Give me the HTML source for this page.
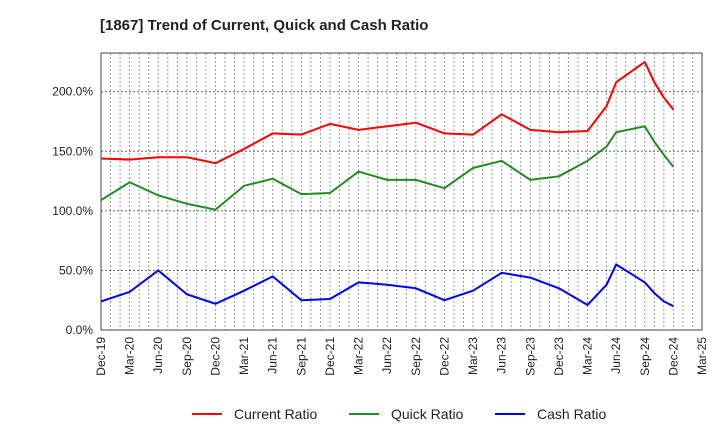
<!DOCTYPE html>
<html><head><meta charset="utf-8"><style>
body{margin:0;background:#fff;font-family:"Liberation Sans",sans-serif;}
</style></head><body>
<svg id="chart" width="720" height="440" xmlns="http://www.w3.org/2000/svg">
<text x="100" y="30" font-size="15" font-weight="bold" fill="#222">[1867]  Trend of Current, Quick and Cash Ratio</text>
<g id="grid"></g><g id="axes"></g><g id="series"></g>
<g font-size="14" fill="#222">
<line x1="192" y1="414" x2="222" y2="414" stroke="#ff0000" stroke-width="2"/>
<text x="234" y="419">Current Ratio</text>
<line x1="349" y1="414" x2="379" y2="414" stroke="#228b22" stroke-width="2"/>
<text x="391" y="419">Quick Ratio</text>
<line x1="495" y1="414" x2="525" y2="414" stroke="#0000ff" stroke-width="2"/>
<text x="537" y="419">Cash Ratio</text>
</g>
</svg>
<script>
const xLabels=["Dec-19","Mar-20","Jun-20","Sep-20","Dec-20","Mar-21","Jun-21","Sep-21","Dec-21","Mar-22","Jun-22","Sep-22","Dec-22","Mar-23","Jun-23","Sep-23","Dec-23","Mar-24","Jun-24","Sep-24","Dec-24","Mar-25"];
const yTicks=[0,50,100,150,200];
const months=[0,3,6,9,12,15,18,21,24,27,30,33,36,39,42,45,48,51,53,54,57,58,59,60];
const currentRatio=[144,143,145,145,140,152,165,164,173,168,171,174,165,164,181,168,166,167,188,208,225,208,195,185];
const quickRatio=[109,124,113,106,101,121,127,114,115,133,126,126,119,136,142,126,129,142,154,166,171,158,147,137];
const cashRatio=[24,32,50,30,22,33,45,25,26,40,38,35,25,33,48,44,35,21,38,55,40,31,24,20];
const L=101,R=702,T=53,B=330,NM=63,YMAX=232.5;
const xs=m=>L+m*(R-L)/NM, ys=v=>B-v*(B-T)/YMAX;
const NS="http://www.w3.org/2000/svg";
function mk(tag,attrs,parent){const e=document.createElementNS(NS,tag);for(const k in attrs)e.setAttribute(k,attrs[k]);parent.appendChild(e);return e;}
const grid=document.getElementById('grid'),axes=document.getElementById('axes'),ser=document.getElementById('series');
for(let m=1;m<NM;m++){const l=mk('line',{x1:xs(m),x2:xs(m),y1:T,y2:B,stroke:'#999','stroke-dasharray':'2,2','stroke-width':1},grid);

}
yTicks.forEach(v=>{if(v>0){const l=mk('line',{x1:L,x2:R,y1:ys(v),y2:ys(v),stroke:'#666','stroke-dasharray':'2,2','stroke-width':1},grid);

}
const t=mk('text',{x:L-8,y:ys(v)+4,'text-anchor':'end','font-size':12,fill:'#222'},axes);t.textContent=v.toFixed(1)+'%';

});
const fr=mk('rect',{x:L,y:T,width:R-L,height:B-T,fill:'none',stroke:'#444','stroke-width':1},axes);


xLabels.forEach((s,i)=>{const x=xs(i*3);const t=mk('text',{x:0,y:0,'text-anchor':'end','font-size':12,fill:'#222',transform:`translate(${x+4},${B+7}) rotate(-90)`},axes);t.textContent=s;

});
[[currentRatio,'#ff0000','current-ratio-line'],[quickRatio,'#228b22','quick-ratio-line'],[cashRatio,'#0000ff','cash-ratio-line']].forEach(([d,c,n])=>{
const p=mk('polyline',{points:d.map((v,i)=>xs(months[i])+','+ys(v)).join(' '),fill:'none',stroke:c,'stroke-width':2,'stroke-linejoin':'round'},ser);

});
</script>
</body></html>
